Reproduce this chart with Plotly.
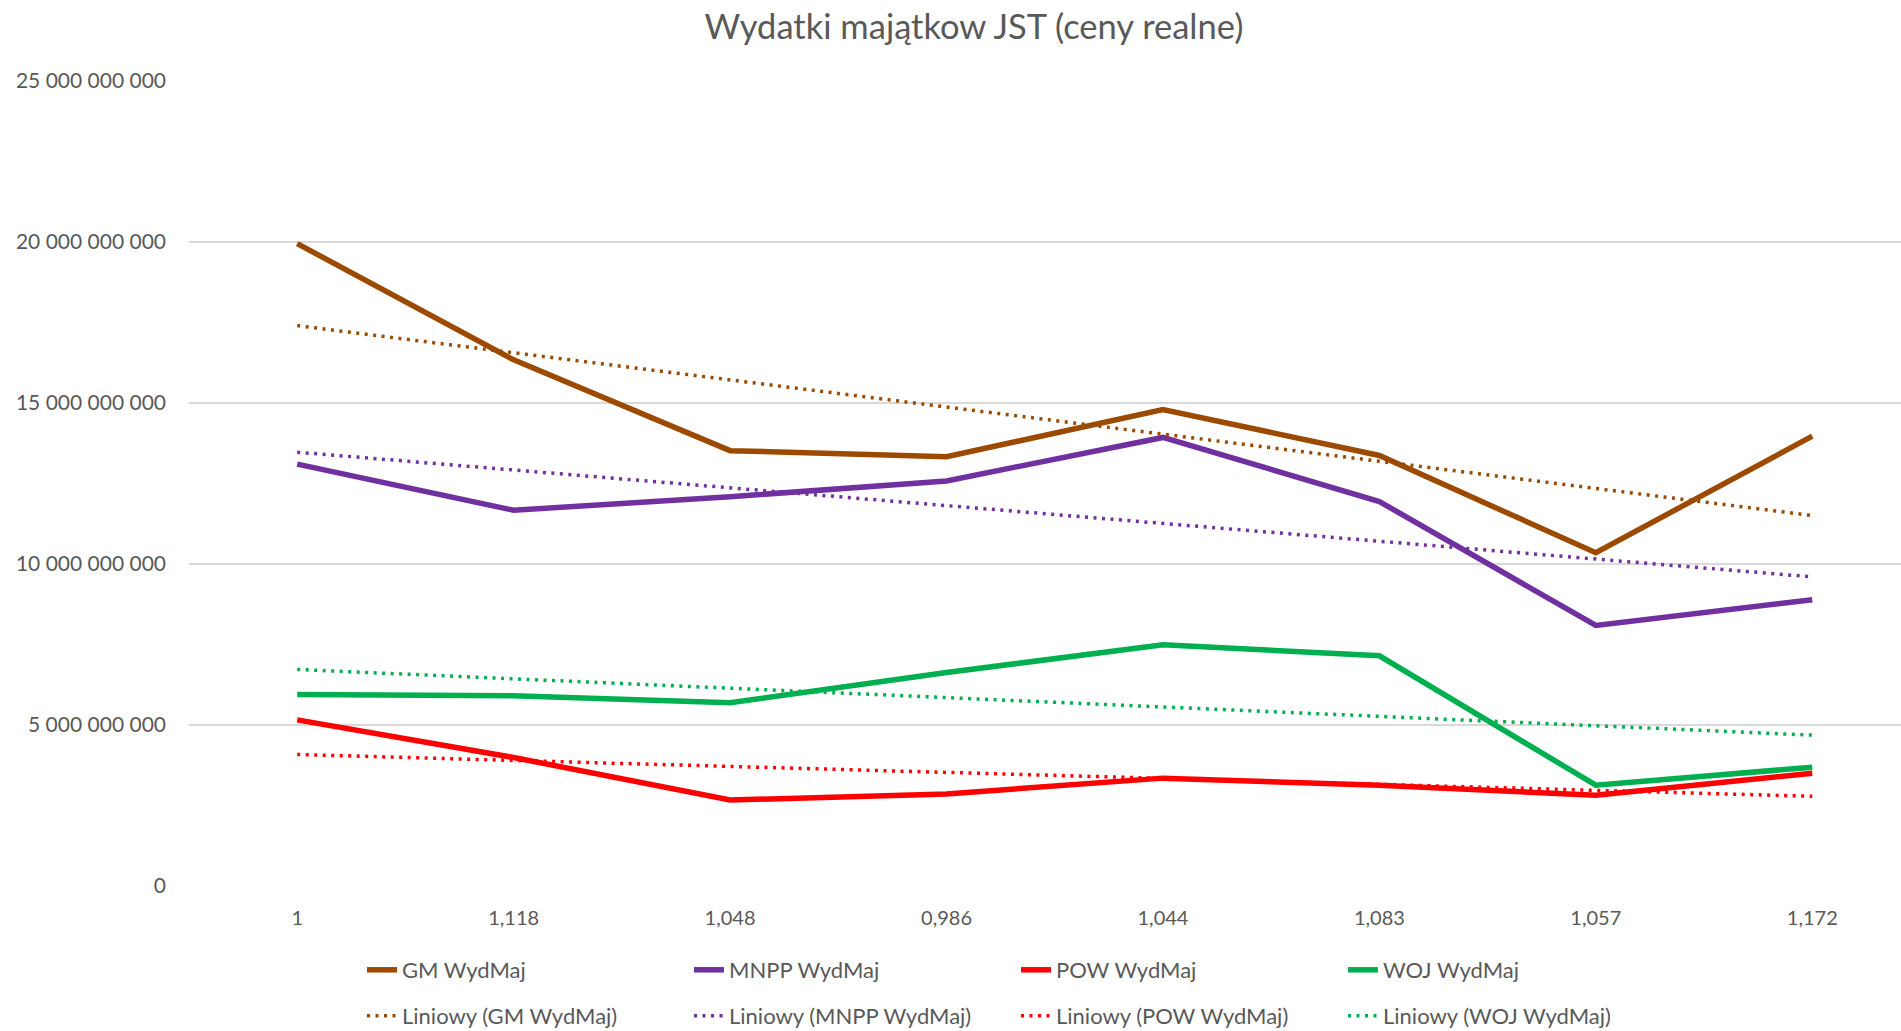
import numpy as np
import plotly.graph_objects as go

title = "Wydatki majątkow JST (ceny realne)"
categories = ["1", "1,118", "1,048", "0,986", "1,044", "1,083", "1,057", "1,172"]

gm = [19.95e9, 16.34e9, 13.52e9, 13.33e9, 14.80e9, 13.37e9, 10.35e9, 13.97e9]
mnpp = [13.10e9, 11.67e9, 12.09e9, 12.58e9, 13.93e9, 11.94e9, 8.09e9, 8.89e9]
pow_ = [5.16e9, 3.99e9, 2.67e9, 2.86e9, 3.35e9, 3.13e9, 2.82e9, 3.50e9]
woj = [5.95e9, 5.91e9, 5.69e9, 6.63e9, 7.49e9, 7.15e9, 3.13e9, 3.69e9]

series_names = ["GM WydMaj", "MNPP WydMaj", "POW WydMaj", "WOJ WydMaj"]
series_values = [gm, mnpp, pow_, woj]
colors = ["#9C4A00", "#7030A0", "#FF0000", "#00B050"]

fig = go.Figure()
idx = np.arange(1, len(categories) + 1)

for name, vals, col in zip(series_names, series_values, colors):
    fig.add_trace(go.Scatter(
        x=categories, y=vals, mode="lines", name=name,
        line=dict(color=col, width=5.5), legend="legend",
    ))

for name, vals, col in zip(series_names, series_values, colors):
    slope, intercept = np.polyfit(idx, vals, 1)
    trend = slope * idx + intercept
    fig.add_trace(go.Scatter(
        x=categories, y=trend, mode="lines", name=f"Liniowy ({name})",
        line=dict(color=col, width=3.5, dash="3px,5.5px"), legend="legend2",
    ))

FONT = "Lato, Open Sans, sans-serif"
legend_font = dict(family=FONT, size=22, color="#595959")

fig.update_layout(
    width=1901, height=1031,
    margin=dict(l=189, r=0, t=81, b=145, autoexpand=False),
    paper_bgcolor="white", plot_bgcolor="white",
    separators=", ",
    title=dict(text=title, x=974 / 1901, xanchor="center", xref="container",
               y=1 - 27 / 1031, yanchor="middle", yref="container",
               font=dict(family=FONT, size=34.5, color="#595959")),
    xaxis=dict(type="category", range=[-0.5, 7.41], showgrid=False, showline=False,
               zeroline=False, ticks="",
               tickfont=dict(family=FONT, size=20, color="#595959"),
               ticklabelstandoff=18),
    yaxis=dict(range=[0, 25e9], tickvals=[0, 5e9, 10e9, 15e9, 20e9, 25e9], tickformat=",d",
               showgrid=True, gridcolor="#D9D9D9", gridwidth=1.5, zeroline=False,
               showline=False, ticks="",
               tickfont=dict(family=FONT, size=21, color="#595959"),
               ticklabelstandoff=22),
    legend=dict(orientation="h", x=362 / 1901, xanchor="left", xref="container",
                y=1 - 970 / 1031, yanchor="middle", yref="container",
                entrywidth=282, entrywidthmode="pixels", font=legend_font,
                bgcolor="rgba(0,0,0,0)"),
    legend2=dict(orientation="h", x=362 / 1901, xanchor="left", xref="container",
                 y=1 - 1016 / 1031, yanchor="middle", yref="container",
                 entrywidth=282, entrywidthmode="pixels", font=legend_font,
                 bgcolor="rgba(0,0,0,0)"),
)

fig.write_html(
    "out.html",
    config={"displayModeBar": False},
    post_script="document.body.style.margin='0';document.body.style.overflow='hidden';",
)
